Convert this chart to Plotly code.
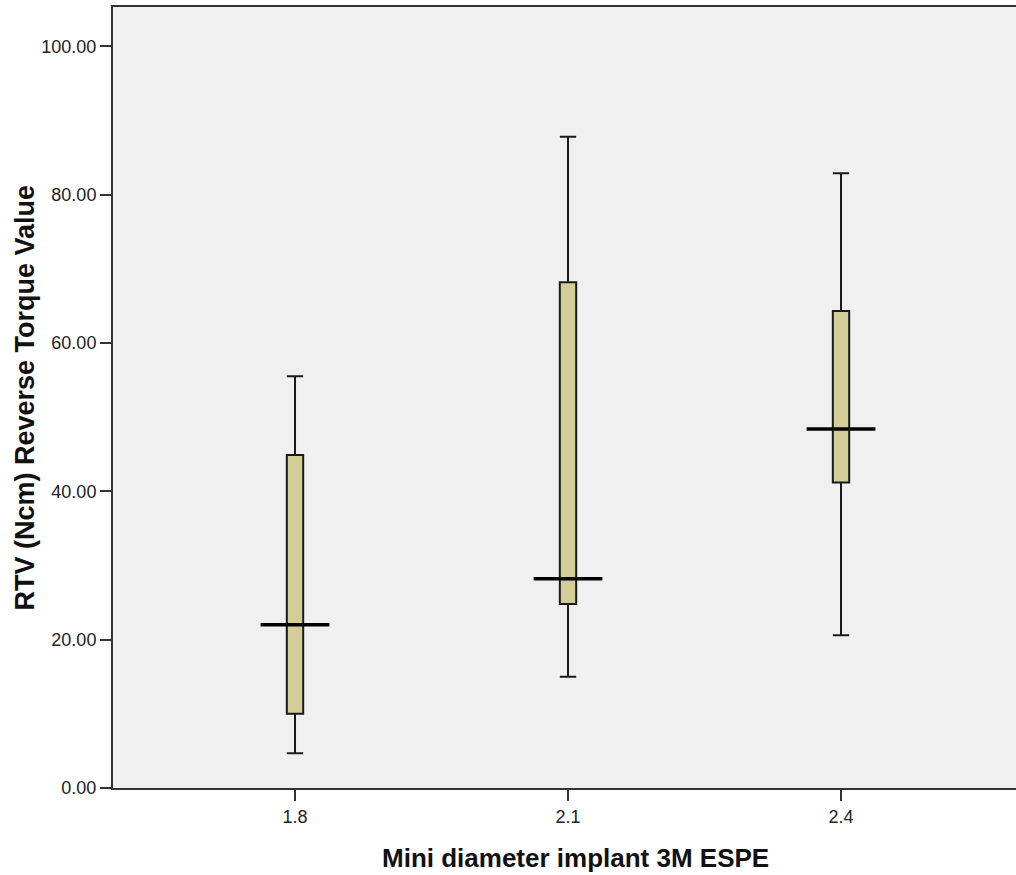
import plotly.graph_objects as go

# Data
categories = ["1.8", "2.1", "2.4"]
lower_whisker = [4.7, 15.0, 20.6]
q1_values = [10.0, 24.8, 41.2]
median_values = [22.0, 28.2, 48.4]
q3_values = [44.9, 68.2, 64.3]
upper_whisker = [55.5, 87.8, 82.9]
y_tick_values = [0, 20, 40, 60, 80, 100]
y_tick_labels = ["0.00", "20.00", "40.00", "60.00", "80.00", "100.00"]

positions = list(range(len(categories)))

FILL = "#D3CE97"
LINE = "#1a1a1a"
AXIS = "#333333"
BG = "#F0F0F0"
FONT = "Liberation Sans, Arial, sans-serif"

fig = go.Figure()

fig.add_trace(go.Box(
    x=positions,
    q1=q1_values,
    median=median_values,
    q3=q3_values,
    lowerfence=lower_whisker,
    upperfence=upper_whisker,
    width=0.06,
    whiskerwidth=1,
    fillcolor=FILL,
    line=dict(color=LINE, width=2),
    boxpoints=False,
    showlegend=False,
    hoverinfo="skip",
))

# wide, thick median lines as in the reference
half = 0.126
mx, my = [], []
for p, m in zip(positions, median_values):
    mx += [p - half, p + half, None]
    my += [m, m, None]
fig.add_trace(go.Scatter(
    x=mx, y=my, mode="lines",
    line=dict(color="#000000", width=3.5),
    showlegend=False, hoverinfo="skip",
))

fig.update_layout(
    width=1016,
    height=875,
    margin=dict(l=113, r=0, t=7, b=87),
    paper_bgcolor="white",
    plot_bgcolor=BG,
    font=dict(family=FONT, size=18, color="#222222"),
    xaxis=dict(
        range=[-0.6667, 2.641],
        tickmode="array",
        tickvals=positions,
        ticktext=categories,
        showgrid=False,
        zeroline=False,
        showline=True,
        mirror=True,
        linecolor=AXIS,
        linewidth=2,
        ticks="outside",
        ticklen=11,
        tickwidth=2,
        tickcolor=AXIS,
        tickfont=dict(family=FONT, size=18, color="#222222"),
    ),
    yaxis=dict(
        range=[0, 105.3],
        tickmode="array",
        tickvals=y_tick_values,
        ticktext=y_tick_labels,
        showgrid=False,
        zeroline=False,
        showline=True,
        linecolor=AXIS,
        linewidth=2,
        ticks="outside",
        ticklen=11,
        tickwidth=2,
        tickcolor=AXIS,
        tickfont=dict(family=FONT, size=18, color="#222222"),
    ),
    annotations=[
        dict(
            text="<b>Mini diameter implant 3M ESPE</b>",
            xref="paper", yref="paper", x=0.512, y=0,
            xanchor="center", yanchor="middle", yshift=-70,
            showarrow=False,
            font=dict(family=FONT, size=26, color="#111111"),
        ),
        dict(
            text="<b>RTV (Ncm) Reverse Torque Value</b>",
            xref="paper", yref="paper", x=0, y=0.5,
            xanchor="center", yanchor="middle", xshift=-89,
            textangle=-90,
            showarrow=False,
            font=dict(family=FONT, size=27, color="#111111"),
        ),
    ],
)

fig.write_html("out.html")
